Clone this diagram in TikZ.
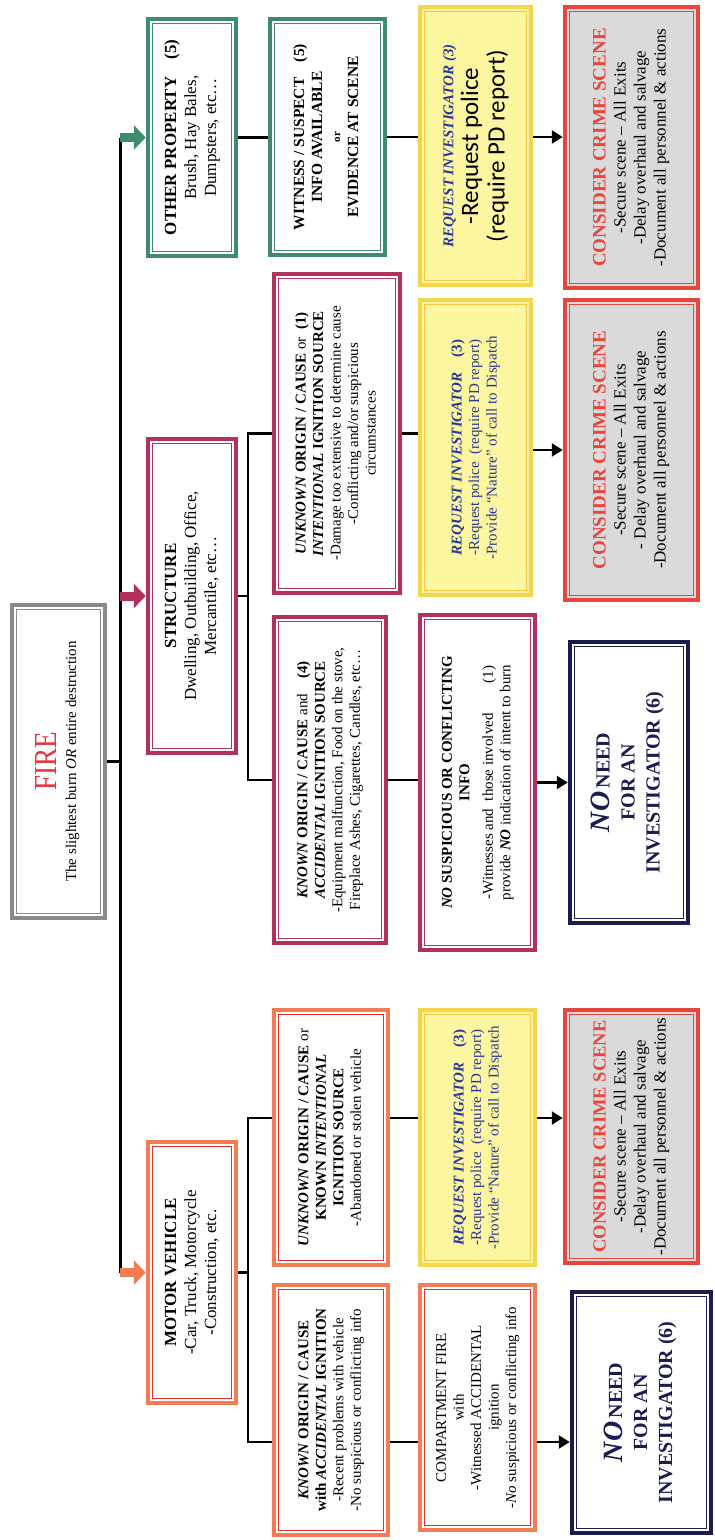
\documentclass[tikz,border=0pt]{standalone}
\usepackage{fontspec}
\setmainfont{Liberation Serif}
\newfontfamily\padfont{Carlito}
\usepackage{graphicx}
\usetikzlibrary{arrows.meta}
\definecolor{firegray}{RGB}{138,138,138}
\definecolor{firered}{RGB}{232,50,60}
\definecolor{propgreen}{RGB}{62,140,110}
\definecolor{structred}{RGB}{176,48,94}
\definecolor{vehorange}{RGB}{244,124,82}
\definecolor{vehred}{RGB}{226,48,44}
\definecolor{reqgold}{RGB}{244,214,76}
\definecolor{reqyellow}{RGB}{252,246,160}
\definecolor{reqblue}{RGB}{40,56,150}
\definecolor{crimered}{RGB}{232,70,60}
\definecolor{crimegray}{RGB}{218,218,218}
\definecolor{noneblue}{RGB}{28,28,78}
\newcommand{\uptext}[1]{\rotatebox{90}{\begin{tabular}{@{}c@{}}#1\end{tabular}}}
\tikzset{
  framed box/.style n args={3}{
    rectangle, draw=#1, line width=4.5pt, fill=#3, inner sep=0pt,
    path picture={\draw[#2, line width=1.2pt]
      ([shift={(4.8pt,4.8pt)}]path picture bounding box.south west) rectangle
      ([shift={(-4.8pt,-4.8pt)}]path picture bounding box.north east);},
    font=\fontsize{15}{17.5}\selectfont
  },
  box size/.style 2 args={minimum width=#1, minimum height=#2},
  fire box/.style={framed box={firegray}{firegray}{white}},
  green box/.style={framed box={propgreen}{propgreen}{white}},
  crimson box/.style={framed box={structred}{structred}{white}},
  orange box/.style={framed box={vehorange}{vehred}{white}},
  yellow box/.style={framed box={reqgold}{reqgold!85!orange}{reqyellow}},
  crime box/.style={framed box={crimered}{crimered}{crimegray},
    font=\fontsize{17}{20}\selectfont},
  none box/.style={framed box={noneblue}{noneblue}{white}, text=noneblue,
    font=\fontsize{20}{25}\selectfont\bfseries},
  category font/.style={font=\fontsize{17}{20}\selectfont},
  link/.style={line width=2.5pt, black},
  flow/.style={line width=2.5pt, black, -{Triangle[width=13pt,length=11pt]}},
  feed/.style={line width=9pt, draw=#1, -{Triangle[width=24pt,length=12pt]}}
}
\begin{document}
\begin{tikzpicture}[x=1pt, y=-1pt]
  \useasboundingbox (0,0) rectangle (715,1540);

  \node[fire box, box size={93pt}{313pt}] (fire) at (58.5,761.5)
    {\uptext{{\fontsize{32}{34}\selectfont\color{firered}\scalebox{0.85}[1]{FIRE}}\\[2pt]
      The slightest burn \textit{OR} entire destruction}};

  \node[green box, category font, box size={88pt}{237pt}] (other) at (192,137.5)
    {\uptext{\textbf{OTHER PROPERTY\quad(5)}\\ Brush, Hay Bales,\\ Dumpsters, etc…}};
  \node[crimson box, category font, box size={88pt}{314pt}] (structure) at (192,596)
    {\uptext{\textbf{STRUCTURE}\\ Dwelling, Outbuilding, Office,\\ Mercantile, etc…}};
  \node[orange box, category font, box size={88pt}{261pt}] (motor) at (192,1272.5)
    {\uptext{\textbf{MOTOR VEHICLE}\\ -Car, Truck, Motorcycle\\ -Construction, etc.}};

  \node[green box, box size={115pt}{236pt}, font=\fontsize{15.5}{18}\selectfont\bfseries] (witness) at (327.5,137)
    {\uptext{WITNESS / SUSPECT\quad(5)\\ INFO AVAILABLE\\ {\fontsize{11}{12}\selectfont or}\\ EVIDENCE AT SCENE}};
  \node[crimson box, box size={126pt}{319pt}] (unknownS) at (337,433.5)
    {\uptext{\textbf{\textit{UNKNOWN} ORIGIN / CAUSE} or\enspace\textbf{(1)}\\
      \textbf{\textit{INTENTIONAL} IGNITION SOURCE}\\
      -Damage too extensive to determine cause\\
      -Conflicting and/or suspicious\\ circumstances}};
  \node[crimson box, box size={112pt}{326pt}] (knownS) at (330,780)
    {\uptext{\textbf{\textit{KNOWN} ORIGIN / CAUSE} and\quad\textbf{(4)}\\
      \textbf{\textit{ACCIDENTAL} IGNITION SOURCE}\\
      -Equipment malfunction, Food on the stove,\\
      Fireplace Ashes, Cigarettes, Candles, etc…}};
  \node[orange box, box size={114pt}{255pt}] (unknownM) at (331,1137.5)
    {\uptext{\textbf{\textit{UNKNOWN} ORIGIN / CAUSE} or\\
      \textbf{KNOWN \textit{INTENTIONAL}}\\ \textbf{IGNITION SOURCE}\\
      -Abandoned or stolen vehicle}};
  \node[orange box, box size={114pt}{250pt}] (knownM) at (331,1410)
    {\uptext{\textbf{\textit{KNOWN} ORIGIN / CAUSE}\\
      \textbf{with \textit{ACCIDENTAL} IGNITION}\\
      -Recent problems with vehicle\\ -No suspicious or conflicting info}};

  \node[yellow box, box size={111pt}{278pt}] (yellowO) at (475.5,146)
    {\uptext{{\color{reqblue}\bfseries\itshape REQUEST INVESTIGATOR (3)}\\[2pt]
      {\padfont\fontsize{25}{29}\selectfont -Request police}\\[3pt]
      {\padfont\fontsize{25}{29}\selectfont (require PD report)}}};
  \node[yellow box, box size={111pt}{295pt}, text=reqblue] (yellowS) at (475.5,447.5)
    {\uptext{\textbf{\textit{REQUEST INVESTIGATOR}\quad(3)}\\
      -Request police\enspace(require PD report)\\
      -Provide ``Nature'' of call to Dispatch}};
  \node[crimson box, box size={115pt}{335pt}] (noSusp) at (477.5,782.5)
    {\uptext{\textbf{\textit{NO} SUSPICIOUS OR CONFLICTING}\\ \textbf{INFO}\\[6pt]
      -Witnesses and\enspace those involved\qquad(1)\\
      provide \textbf{\textit{NO}} indication of intent to burn}};
  \node[yellow box, box size={115pt}{255pt}, text=reqblue] (yellowM) at (477.5,1137.5)
    {\uptext{\textbf{\textit{REQUEST INVESTIGATOR}\quad(3)}\\
      -Request police\enspace(require PD report)\\
      -Provide ``Nature'' of call to Dispatch}};
  \node[orange box, box size={115pt}{245pt}] (compartment) at (477.5,1407.5)
    {\uptext{COMPARTMENT FIRE\\ with\\ -Witnessed ACCIDENTAL\\ ignition\\
      -\textit{No} suspicious or conflicting info}};

  \node[crime box, box size={133pt}{281pt}] (crimeO) at (631.5,147.5)
    {\uptext{{\color{crimered}\bfseries\fontsize{19}{22}\selectfont CONSIDER CRIME SCENE}\\
      -Secure scene -- All Exits\\ -Delay overhaul and salvage\\
      -Document all personnel \& actions}};
  \node[crime box, box size={133pt}{300pt}] (crimeS) at (631.5,450)
    {\uptext{{\color{crimered}\bfseries\fontsize{19}{22}\selectfont CONSIDER CRIME SCENE}\\
      -Secure scene -- All Exits\\ - Delay overhaul and salvage\\
      -Document all personnel \& actions}};
  \node[none box, box size={118pt}{281pt}] (needS) at (629,782.5)
    {\uptext{{\fontsize{28}{30}\selectfont\itshape NO}\,NEED\\ FOR AN\\ INVESTIGATOR (6)}};
  \node[crime box, box size={133pt}{253pt}] (crimeM) at (631.5,1136.5)
    {\uptext{{\color{crimered}\bfseries\fontsize{18.5}{22}\selectfont CONSIDER CRIME SCENE}\\
      -Secure scene -- All Exits\\ -Delay overhaul and salvage\\
      -Document all personnel \& actions}};
  \node[none box, box size={139pt}{241pt}] (needM) at (641.5,1412.5)
    {\uptext{{\fontsize{28}{30}\selectfont\itshape NO}\,NEED\\ FOR AN\\ INVESTIGATOR (6)}};

  \coordinate (trunk top) at (120,137.5);
  \coordinate (trunk bottom) at (120,1272.5);
  \coordinate (s fork) at (248,596);
  \coordinate (m fork) at (248,1272.5);
  \coordinate (m top) at (248,1118);
  \coordinate (m bottom) at (248,1442);

  \draw[link] (fire.east) -- (fire.east -| trunk top);
  \draw[link, line width=3pt] (trunk top) -- (trunk bottom);
  \draw[feed=propgreen] (trunk top) -- (other.west);
  \draw[feed=structred] (trunk top |- structure.west) -- (structure.west);
  \draw[feed=vehorange] (trunk bottom) -- (motor.west);

  \draw[link] (other.east) -- (other.east -| witness.west);
  \draw[link] (witness.east) -- (witness.east -| yellowO.west);
  \draw[flow] (witness.east -| yellowO.east) -- (witness.east -| crimeO.west);

  \draw[link] (structure.east) -- (s fork);
  \draw[link] (unknownS.west) -| (s fork) |- (knownS.west);
  \draw[link] (unknownS.east) -- (unknownS.east -| yellowS.west);
  \draw[flow] (yellowS.east |- crimeS.west) -- (crimeS.west);
  \draw[link] (knownS.east) -- (knownS.east -| noSusp.west);
  \draw[flow] (noSusp.east) -- (noSusp.east -| needS.west);

  \draw[link] (motor.east) -- (m fork);
  \draw[link] (m top -| unknownM.west) -- (m top) -- (m bottom) -- (m bottom -| knownM.west);
  \draw[link] (m top -| unknownM.east) -- (m top -| yellowM.west);
  \draw[flow] (m top -| yellowM.east) -- (m top -| crimeM.west);
  \draw[link] (m bottom -| knownM.east) -- (m bottom -| compartment.west);
  \draw[flow] (m bottom -| compartment.east) -- (m bottom -| needM.west);
\end{tikzpicture}
\end{document}
